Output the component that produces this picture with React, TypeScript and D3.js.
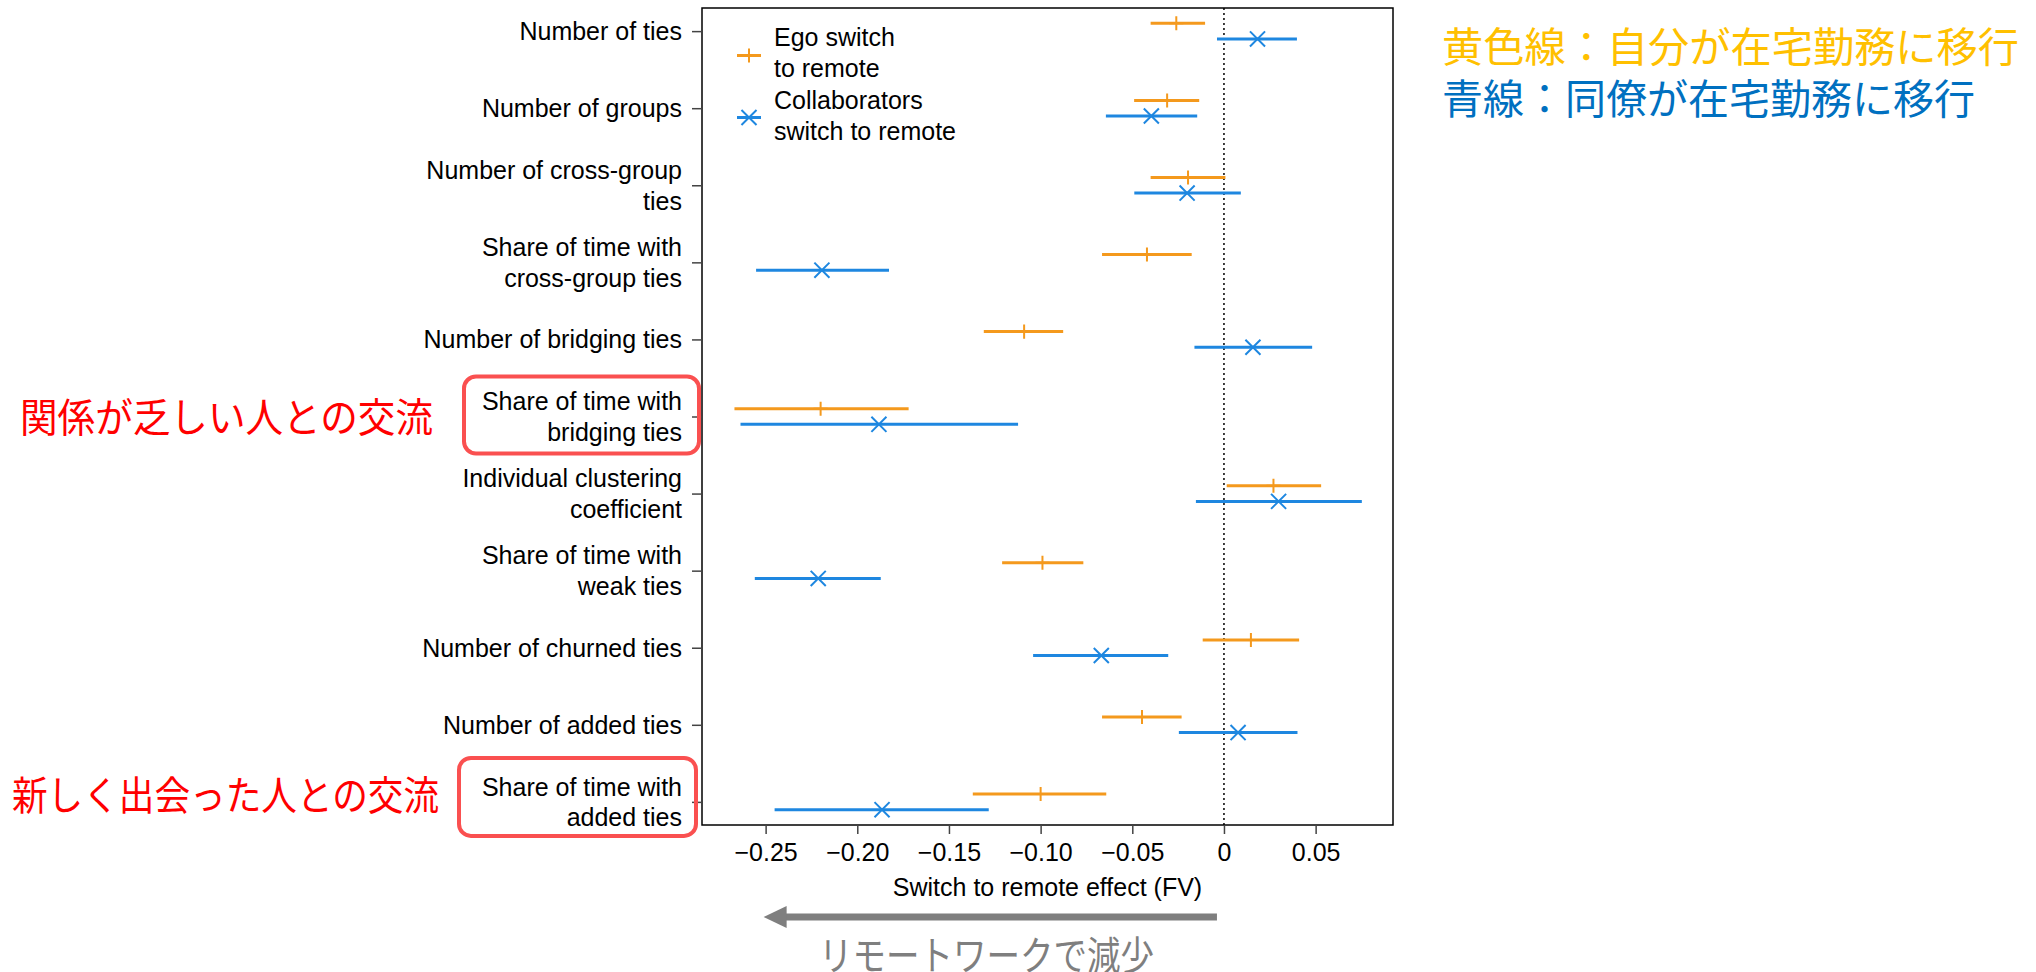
import React, { useRef, useEffect } from 'react';
import * as d3 from 'd3';

// categories (top to bottom), "\n" = line break in the tick label
const categories = [
  'Number of ties',
  'Number of groups',
  'Number of cross-group\nties',
  'Share of time with\ncross-group ties',
  'Number of bridging ties',
  'Share of time with\nbridging ties',
  'Individual clustering\ncoefficient',
  'Share of time with\nweak ties',
  'Number of churned ties',
  'Number of added ties',
  'Share of time with\nadded ties',
];

// Ego switch to remote (orange)
const egoEst = [-0.026, -0.031, -0.0196, -0.042, -0.109, -0.22, 0.027, -0.099, 0.0147, -0.0447, -0.1];
const egoLow = [-0.04, -0.049, -0.04, -0.0665, -0.131, -0.267, 0.0015, -0.121, -0.0116, -0.0665, -0.137];
const egoHigh = [-0.0103, -0.0135, 0.0008, -0.0176, -0.0877, -0.172, 0.053, -0.0767, 0.041, -0.0231, -0.0642];

// Collaborators switch to remote (blue)
const collabEst = [0.0183, -0.0396, -0.0201, -0.2193, 0.0158, -0.1882, 0.0298, -0.2213, -0.0669, 0.0077, -0.1865];
const collabLow = [-0.0038, -0.0644, -0.0489, -0.2552, -0.0161, -0.2637, -0.0153, -0.2559, -0.1041, -0.0246, -0.2451];
const collabHigh = [0.0398, -0.0146, 0.0092, -0.1827, 0.0481, -0.1123, 0.0752, -0.1872, -0.0304, 0.0401, -0.1283];

const xTicks = [-0.25, -0.2, -0.15, -0.1, -0.05, 0, 0.05];
const xTickLabels = ['\u22120.25', '\u22120.20', '\u22120.15', '\u22120.10', '\u22120.05', '0', '0.05'];

const ORANGE = '#f4991d';
const BLUE = '#1e87e0';
const SANS = "'Liberation Sans', Arial, Helvetica, sans-serif";
const CJK = "'Noto Sans CJK JP', 'Noto Sans CJK SC', sans-serif";

const Chart = () => {
  const ref = useRef<SVGSVGElement>(null);

  useEffect(() => {
    const svg = d3.select(ref.current);
    svg.selectAll('*').remove();

    const left = 702, right = 1393, top = 8, bottom = 825;
    const x = d3.scaleLinear().domain([-0.2847, 0.0922]).range([left, right]);
    const y = d3.scalePoint<string>().domain(categories).range([top, bottom]).padding(0.3);
    const off = 7.8;

    // frame
    svg.append('rect')
      .attr('x', left).attr('y', top)
      .attr('width', right - left).attr('height', bottom - top)
      .attr('fill', 'none').attr('stroke', '#000').attr('stroke-width', 1.5);

    // zero line
    svg.append('line')
      .attr('x1', x(0)).attr('x2', x(0)).attr('y1', top).attr('y2', bottom)
      .attr('stroke', '#000').attr('stroke-width', 1.5).attr('stroke-dasharray', '2,3');

    // x axis
    const gx = svg.append('g').attr('transform', `translate(0,${bottom})`)
      .call(d3.axisBottom(x).tickValues(xTicks).tickFormat((d, i) => xTickLabels[i]).tickSize(9).tickPadding(9));
    gx.select('.domain').remove();
    gx.selectAll('line').attr('stroke', '#444').attr('stroke-width', 1.5);
    gx.selectAll('text').attr('font-size', 25).attr('font-family', SANS).attr('fill', '#000');

    svg.append('text')
      .attr('x', (left + right) / 2).attr('y', 896)
      .attr('text-anchor', 'middle').attr('font-size', 25).attr('font-family', SANS)
      .text('Switch to remote effect (FV)');

    // y axis ticks
    const gy = svg.append('g').attr('transform', `translate(${left},0)`)
      .call(d3.axisLeft(y).tickSize(10).tickFormat(() => ''));
    gy.select('.domain').remove();
    gy.selectAll('line').attr('stroke', '#444').attr('stroke-width', 1.5);

    // category labels
    categories.forEach(c => {
      const lines = c.split('\n');
      const yc = y(c) as number;
      lines.forEach((ln, i) => {
        const base = yc + 9 + (i - (lines.length - 1) / 2) * 30.7;
        svg.append('text')
          .attr('x', 682).attr('y', base)
          .attr('text-anchor', 'end').attr('font-size', 25).attr('font-family', SANS)
          .attr('fill', '#000')
          .text(ln);
      });
    });

    const plus = d3.symbol().type(d3.symbolPlus).size(66);
    const times = d3.symbol().type(d3.symbolTimes).size(150);

    const series = [
      { est: egoEst, lo: egoLow, hi: egoHigh, color: ORANGE, dy: -off, sym: plus },
      { est: collabEst, lo: collabLow, hi: collabHigh, color: BLUE, dy: off, sym: times },
    ];

    series.forEach(s => {
      const g = svg.append('g');
      g.selectAll('line.bar')
        .data(categories)
        .enter().append('line')
        .attr('class', 'bar')
        .attr('x1', (d, i) => x(s.lo[i]))
        .attr('x2', (d, i) => x(s.hi[i]))
        .attr('y1', d => (y(d) as number) + s.dy)
        .attr('y2', d => (y(d) as number) + s.dy)
        .attr('stroke', s.color).attr('stroke-width', 3);
      g.selectAll('path.mark')
        .data(categories)
        .enter().append('path')
        .attr('class', 'mark')
        .attr('d', s.sym as any)
        .attr('transform', (d, i) => `translate(${x(s.est[i])},${(y(d) as number) + s.dy})`)
        .attr('fill', 'none').attr('stroke', s.color).attr('stroke-width', 2);
    });

    // legend
    const legend = [
      { color: ORANGE, sym: plus, yc: 55.5, lines: ['Ego switch', 'to remote'], base: 46 },
      { color: BLUE, sym: times, yc: 117.5, lines: ['Collaborators', 'switch to remote'], base: 109 },
    ];
    legend.forEach(l => {
      svg.append('line').attr('x1', 737).attr('x2', 761).attr('y1', l.yc).attr('y2', l.yc)
        .attr('stroke', l.color).attr('stroke-width', 3);
      svg.append('path').attr('d', l.sym as any).attr('transform', `translate(749,${l.yc})`)
        .attr('fill', 'none').attr('stroke', l.color).attr('stroke-width', 2);
      l.lines.forEach((t, i) => {
        svg.append('text').attr('x', 774).attr('y', l.base + i * 30.5)
          .attr('font-size', 25).attr('font-family', SANS).text(t);
      });
    });

    // highlight boxes + red notes
    const notes = [
      { cat: 5, text: '関係が乏しい人との交流', tx: 20, tlen: 413, ty: 432, bx: 464, bw: 235, by: -40, bh: 77 },
      { cat: 10, text: '新しく出会った人との交流', tx: 12, tlen: 427, ty: 810, bx: 459, bw: 237, by: -44, bh: 78 },
    ];
    notes.forEach(n => {
      const yc = y(categories[n.cat]) as number;
      svg.append('rect')
        .attr('x', n.bx).attr('y', yc + n.by).attr('width', n.bw).attr('height', n.bh)
        .attr('rx', 12).attr('fill', 'none').attr('stroke', '#fa5050').attr('stroke-width', 4);
      svg.append('text')
        .attr('x', n.tx).attr('y', n.ty)
        .attr('font-size', 40).attr('font-family', CJK).attr('fill', '#ff0000')
        .attr('textLength', n.tlen).attr('lengthAdjust', 'spacingAndGlyphs')
        .text(n.text);
    });

    // right-hand notes
    svg.append('text').attr('x', 1442).attr('y', 62)
      .attr('font-size', 41).attr('font-family', CJK).attr('fill', '#ffc000')
      .attr('textLength', 577).attr('lengthAdjust', 'spacingAndGlyphs')
      .text('黄色線：自分が在宅勤務に移行');
    svg.append('text').attr('x', 1442).attr('y', 114)
      .attr('font-size', 41).attr('font-family', CJK).attr('fill', '#0070c0')
      .attr('textLength', 533).attr('lengthAdjust', 'spacingAndGlyphs')
      .text('青線：同僚が在宅勤務に移行');

    // arrow under the axis
    const ay = 917;
    const x0 = x(0) - 7;
    const tip = x(-0.25) - 2;
    svg.append('line').attr('x1', x0).attr('x2', tip + 20).attr('y1', ay).attr('y2', ay)
      .attr('stroke', '#7f7f7f').attr('stroke-width', 7);
    svg.append('path')
      .attr('d', `M${tip},${ay}L${tip + 23},${ay - 11}L${tip + 23},${ay + 11}Z`)
      .attr('fill', '#7f7f7f');
    svg.append('text').attr('x', 819).attr('y', 970)
      .attr('font-size', 40).attr('font-family', CJK).attr('fill', '#7f7f7f')
      .attr('textLength', 335).attr('lengthAdjust', 'spacingAndGlyphs')
      .text('リモートワークで減少');
  }, []);

  return (
    <svg ref={ref} width={2036} height={972}
      style={{ position: 'absolute', left: 0, top: 0, background: '#fff', display: 'block' }} />
  );
};

export default function App() {
  return (
    <div>
      <Chart />
    </div>
  );
}
